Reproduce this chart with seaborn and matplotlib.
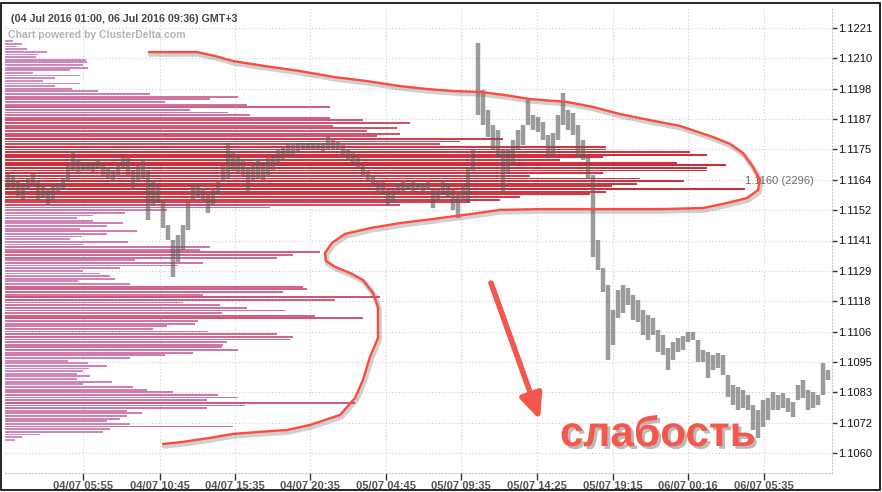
import numpy as np
import matplotlib
matplotlib.use("Agg")
import matplotlib.pyplot as plt
import matplotlib.patheffects as pe
import matplotlib.transforms as mtransforms
import seaborn as sns

# price bars (one bar per candle, left to right)
HIGHS = [
    1.11665, 1.11653, 1.11634, 1.11623, 1.11642, 1.11661, 1.11634, 1.11615, 1.11604, 1.11615,
    1.11623, 1.11642, 1.11691, 1.11740, 1.11710, 1.11702, 1.11699, 1.11702, 1.11710, 1.11699,
    1.11680, 1.11672, 1.11702, 1.11729, 1.11718, 1.11672, 1.11691, 1.11710, 1.11672, 1.11634,
    1.11615, 1.11558, 1.11464, 1.11407, 1.11426, 1.11464, 1.11547, 1.11615, 1.11615, 1.11604,
    1.11577, 1.11596, 1.11627, 1.11691, 1.11774, 1.11736, 1.11729, 1.11710, 1.11680, 1.11702,
    1.11710, 1.11702, 1.11718, 1.11729, 1.11748, 1.11759, 1.11774, 1.11767, 1.11774, 1.11774,
    1.11774, 1.11774, 1.11774, 1.11774, 1.11801, 1.11786, 1.11778, 1.11767, 1.11748, 1.11740,
    1.11718, 1.11691, 1.11672, 1.11653, 1.11634, 1.11627, 1.11596, 1.11604, 1.11623, 1.11627,
    1.11623, 1.11634, 1.11623, 1.11623, 1.11627, 1.11596, 1.11604, 1.11634, 1.11623, 1.11596,
    1.11577, 1.11615, 1.11683, 1.11748, 1.12153, 1.11975, 1.11899, 1.11843, 1.11824, 1.11748,
    1.11748, 1.11786, 1.11824, 1.11843, 1.11937, 1.11880, 1.11873, 1.11854, 1.11805, 1.11812,
    1.11880, 1.11964, 1.11899, 1.11888, 1.11843, 1.11786, 1.11721, 1.11653, 1.11407, 1.11301,
    1.11236, 1.11142, 1.11218, 1.11236, 1.11225, 1.11199, 1.11180, 1.11142, 1.11123, 1.11111,
    1.11066, 1.11047, 1.10998, 1.11021, 1.11036, 1.11043, 1.11058, 1.11058, 1.11028, 1.10990,
    1.10983, 1.10971, 1.10979, 1.10971, 1.10896, 1.10858, 1.10850, 1.10839, 1.10820, 1.10782,
    1.10763, 1.10801, 1.10808, 1.10831, 1.10820, 1.10827, 1.10808, 1.10793, 1.10858, 1.10877,
    1.10839, 1.10831, 1.10820, 1.10941, 1.10914,
]
LOWS = [
    1.11596, 1.11604, 1.11574, 1.11558, 1.11596, 1.11615, 1.11558, 1.11566, 1.11540, 1.11558,
    1.11585, 1.11596, 1.11627, 1.11672, 1.11665, 1.11672, 1.11672, 1.11665, 1.11680, 1.11653,
    1.11642, 1.11627, 1.11653, 1.11680, 1.11653, 1.11604, 1.11627, 1.11642, 1.11483, 1.11540,
    1.11547, 1.11452, 1.11407, 1.11267, 1.11324, 1.11369, 1.11445, 1.11558, 1.11570, 1.11558,
    1.11509, 1.11540, 1.11577, 1.11627, 1.11642, 1.11672, 1.11665, 1.11653, 1.11585, 1.11634,
    1.11642, 1.11634, 1.11653, 1.11672, 1.11699, 1.11710, 1.11729, 1.11721, 1.11740, 1.11748,
    1.11748, 1.11748, 1.11748, 1.11740, 1.11748, 1.11748, 1.11748, 1.11729, 1.11710, 1.11699,
    1.11680, 1.11653, 1.11634, 1.11615, 1.11589, 1.11577, 1.11540, 1.11547, 1.11585, 1.11589,
    1.11596, 1.11589, 1.11596, 1.11589, 1.11596, 1.11528, 1.11558, 1.11577, 1.11570, 1.11521,
    1.11490, 1.11558, 1.11547, 1.11672, 1.11880, 1.11843, 1.11797, 1.11748, 1.11721, 1.11589,
    1.11661, 1.11691, 1.11748, 1.11767, 1.11843, 1.11824, 1.11816, 1.11786, 1.11721, 1.11729,
    1.11786, 1.11843, 1.11824, 1.11805, 1.11721, 1.11710, 1.11642, 1.11343, 1.11293, 1.11210,
    1.10952, 1.11009, 1.11111, 1.11130, 1.11161, 1.11104, 1.11096, 1.11047, 1.11028, 1.11047,
    1.10983, 1.10971, 1.10914, 1.10952, 1.10983, 1.10990, 1.11021, 1.11028, 1.10945, 1.10945,
    1.10884, 1.10914, 1.10922, 1.10896, 1.10812, 1.10782, 1.10763, 1.10771, 1.10763, 1.10687,
    1.10657, 1.10699, 1.10725, 1.10763, 1.10763, 1.10771, 1.10755, 1.10736, 1.10801, 1.10808,
    1.10763, 1.10771, 1.10782, 1.10820, 1.10877,
]

# volume profile, one value per 1-pip level from the top level down
PROFILE_TOP = 1.1216
PROFILE_STEP = 0.0001
VOLUMES = [
    25, 53, 37, 68, 130, 102, 96, 251, 254, 242,
    257, 202, 87, 233, 155, 118, 233, 155, 208, 288,
    450, 722, 636, 496, 750, 1008, 574, 691, 760, 1008,
    1110, 1256, 1017, 1215, 1122, 1225, 1153, 1544, 1411, 1349,
    1866, 1866, 2124, 2179, 1854, 1721, 2086, 2238, 2179, 2179,
    1854, 1628, 1969, 2108, 1962, 1882, 2296, 1866, 1814, 1597,
    1536, 1442, 1225, 822, 502, 372, 273, 223, 273, 366,
    316, 233, 409, 316, 239, 202, 381, 242, 636, 605,
    977, 893, 843, 403, 614, 536, 357, 242, 295, 326,
    341, 226, 388, 924, 936, 862, 614, 1163, 1023, 552,
    667, 750, 868, 673, 961, 1110, 598, 589, 502, 459,
    629, 843, 893, 884, 688, 676, 673, 722, 583, 496,
    388, 195, 257, 316, 260, 242, 223, 264, 223, 332,
    242, 397, 440, 521, 660, 722, 626, 1085, 744, 626,
    378, 425, 378, 357, 316, 388, 707, 326, 304, 109,
    53, 31,
]

TIME_TICKS = [15, 30.4, 45.4, 60.4, 75.6, 90.6, 105.8, 121, 136, 151.2]
TIME_LABELS = ["04/07 05:55", "04/07 10:45", "04/07 15:35", "04/07 20:35", "05/07 04:45",
               "05/07 09:35", "05/07 14:25", "05/07 19:15", "06/07 00:16", "06/07 05:35"]
PRICE_TICKS = [1.1221, 1.12095, 1.1198, 1.11865, 1.1175, 1.11635, 1.1152, 1.11405,
               1.1129, 1.11175, 1.1106, 1.10945, 1.1083, 1.10715, 1.1060]
PRICE_LABELS = ["1.1221", "1.1210", "1.1198", "1.1187", "1.1175", "1.1164", "1.1152", "1.1141",
                "1.1129", "1.1118", "1.1106", "1.1095", "1.1083", "1.1072", "1.1060"]

# hand-drawn outline (candle index, price)
OUTLINE_IDX = [28.2, 33.4, 37.8, 41.4, 45.0, 51.4, 58.4, 65.4, 71.8, 78.4, 83.8, 89.4, 94.4,
               99.4, 104.4, 111.8, 117.0, 122.4, 128.4, 134.4, 141.0, 144.4, 147.0, 149.0,
               150.4, 150.0, 147.8, 143.8, 139.0, 130.4, 118.4, 106.4, 98.4, 92.4, 86.4,
               78.4, 72.4, 67.4, 64.8, 63.4, 63.6, 65.4, 68.4, 71.0, 73.0, 74.0, 74.0, 72.4,
               71.0, 69.4, 66.4, 60.4, 55.8, 50.4, 45.0, 40.4, 35.0, 31.0]
OUTLINE_PRICE = [1.12119, 1.12119, 1.12119, 1.12104, 1.12085, 1.12066, 1.12047, 1.12024,
                 1.12009, 1.11990, 1.11979, 1.11971, 1.11968, 1.11956, 1.11941, 1.11930,
                 1.11911, 1.11884, 1.11861, 1.11839, 1.11797, 1.11771, 1.11736, 1.11683,
                 1.11634, 1.11596, 1.11566, 1.11547, 1.11528, 1.11524, 1.11524, 1.11524,
                 1.11521, 1.11505, 1.11490, 1.11471, 1.11452, 1.11430, 1.11396, 1.11358,
                 1.11327, 1.11305, 1.11282, 1.11255, 1.11206, 1.11153, 1.11036, 1.10964,
                 1.10877, 1.10808, 1.10744, 1.10706, 1.10687, 1.10680, 1.10672, 1.10657,
                 1.10642, 1.10634]
ARROW_FROM = (96.6, 1.11244)
ARROW_TO = (106.4, 1.10725)
WEAK_POS = (130.0, 1.10668)
WEAK_LABEL = "слабость"
TITLE = "(04 Jul 2016 01:00, 06 Jul 2016 09:36) GMT+3"
CREDIT = "Chart powered by ClusterDelta.com"

RED = "#f4574c"

sns.set_theme(style="white")
plt.rcParams["font.family"] = ["Liberation Sans", "DejaVu Sans"]

fig = plt.figure(figsize=(8.82, 4.92), dpi=100)
fig.patch.set_facecolor("white")
ax = fig.add_axes([5 / 882, 19 / 492, 827 / 882, 465 / 492])
ax.set_xlim(-0.6, 164.8)
ax.set_ylim(1.10524, 1.12286)

# volume profile lives on a twin x axis drawn underneath the price bars
axv = ax.twiny()
axv.set_zorder(ax.get_zorder() - 1)
ax.patch.set_visible(False)
vols = np.array(VOLUMES)
levels = PROFILE_TOP - PROFILE_STEP * np.arange(len(vols))
cmap = sns.blend_palette(["#cf92c8", "#d2709c", "#d53b49", "#d22a35"], as_cmap=True)
axv.barh(levels, vols, height=PROFILE_STEP * 0.7, color=cmap(vols / vols.max()),
         linewidth=0, zorder=2)
axv.set_xlim(0, vols.max() * 827 / 740)
axv.xaxis.set_visible(False)
for s in axv.spines.values():
    s.set_visible(False)

# dotted grid behind everything
grid_kw = dict(color="#cfcfcf", lw=0.8, ls=(0, (1, 2)), zorder=0.5)
for p in PRICE_TICKS:
    axv.axhline(p, **grid_kw)
axv.vlines(TIME_TICKS, 0, 1, transform=mtransforms.blended_transform_factory(ax.transData, axv.transAxes),
           **grid_kw)

poc = int(vols.argmax())
axv.annotate(f"{levels[poc]:.4f} ({vols[poc]})", xy=(vols[poc], levels[poc]), xytext=(0, 5.5),
             textcoords="offset points", ha="left", va="center", fontsize=8, color="#6a6a6a")

# price bars
idx = np.arange(len(HIGHS))
ax.vlines(idx, LOWS, HIGHS, color="#5e5e5e", lw=3.2, alpha=0.62, zorder=3)

# annotations
shadow = [pe.SimpleLineShadow(offset=(1.0, -1.6), shadow_color="#666666", alpha=0.3, linewidth=3.6),
          pe.Normal()]
ax.plot(OUTLINE_IDX, OUTLINE_PRICE, color="#ff4a3d", lw=1.7, solid_capstyle="round",
        solid_joinstyle="round", path_effects=shadow, zorder=5)
ax.annotate("", xy=ARROW_TO, xytext=ARROW_FROM, zorder=6,
            arrowprops=dict(arrowstyle="-|>,head_length=1.0,head_width=0.45", color=RED, lw=4,
                            mutation_scale=15, shrinkA=0, shrinkB=0,
                            path_effects=[pe.SimplePatchShadow(offset=(1.5, -2), shadow_rgbFace="#666666",
                                                               alpha=0.4), pe.Normal()]))
ax.text(*WEAK_POS, WEAK_LABEL, fontsize=30.5, fontweight="bold", color=RED, ha="center", va="center",
        zorder=7, path_effects=[pe.SimplePatchShadow(offset=(2, -2), shadow_rgbFace="#777777", alpha=0.5),
                                pe.Normal()])

# axes styling
ax.set_xticks(TIME_TICKS, TIME_LABELS)
ax.tick_params(axis="x", direction="out", length=5, width=1, color="#333333", labelsize=8,
               labelcolor="#555555", pad=1, bottom=True)
for t in ax.get_xticklabels():
    t.set_fontweight("bold")
ax.yaxis.tick_right()
ax.set_yticks(PRICE_TICKS, PRICE_LABELS)
ax.tick_params(axis="y", direction="out", length=3.5, width=1, color="#333333", labelsize=8,
               labelcolor="#111111", pad=1, right=True)
for side in ["top", "left"]:
    ax.spines[side].set_visible(False)
for side in ["bottom", "right"]:
    ax.spines[side].set_linestyle((0, (1, 2)))
    ax.spines[side].set_color("#c8c8c8")
    ax.spines[side].set_linewidth(0.8)

fig.text(11 / 882, 1 - 19 / 492, TITLE, fontsize=7.7, fontweight="bold", color="#444444", va="center")
fig.text(8 / 882, 1 - 35 / 492, CREDIT, fontsize=7.6, fontweight="bold", color="#b3b3b3", va="center")
fig.add_artist(plt.Rectangle((1 / 882, 2 / 492), 879 / 882, 487 / 492, transform=fig.transFigure,
                             fill=False, ec="black", lw=1.2))

fig.savefig("out.png", dpi=100)
